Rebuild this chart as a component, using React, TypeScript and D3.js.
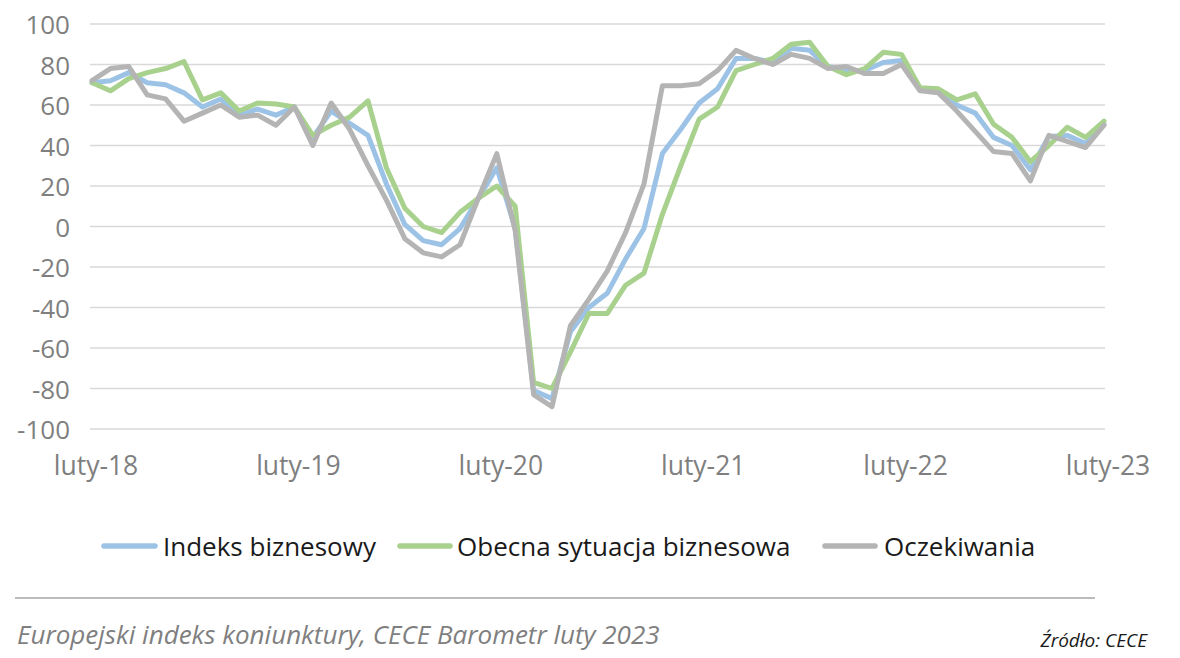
import React from "react";
import * as d3 from "d3";

const xTickLabels = ["luty-18", "luty-19", "luty-20", "luty-21", "luty-22", "luty-23"];
const yTicks = [100, 80, 60, 40, 20, 0, -20, -40, -60, -80, -100];

const indeksBiznesowy = [
  71, 72, 76, 71, 70, 66, 59, 63, 55, 58, 55, 59, 44, 57, 51, 45, 21, 1, -7, -9,
  -1, 14, 29, -1, -81, -85, -52, -40, -33, -16, -1, 36, 48, 61, 68, 83, 83, 81, 88, 87,
  79, 77, 77, 81, 82, 67.5, 66.5, 60, 56, 44, 40, 28, 44.5, 45, 41, 50.5,
];
const obecnaSytuacja = [
  71, 67, 73, 76, 78, 81.5, 62.5, 66, 57, 61, 60.5, 59, 45, 50, 54, 62, 29, 9, 0, -3,
  7, 14, 20, 10, -77, -80, -62, -43, -43, -29, -23, 6, 30, 53, 59, 77, 80, 83, 90, 91,
  79, 75, 78, 86, 85, 68.5, 68, 62.5, 65.5, 50.5, 44, 32, 40, 49, 44, 52,
];
const oczekiwania = [
  72, 78, 79, 65, 63, 52, 56, 60, 54, 55, 50, 59, 40, 61, 48, 30, 13, -6, -13, -15,
  -9, 14, 36, -2, -83, -89, -49, -36, -22, -3, 21, 69.5, 69.5, 70.5, 77, 87, 83, 80, 85, 83,
  78, 79, 75.5, 75.5, 80, 67, 66, 57, 47, 37, 36, 22.5, 45, 42, 39, 50,
];

const seriesNames = ["Indeks biznesowy", "Obecna sytuacja biznesowa", "Oczekiwania"];
const seriesColors = ["#9cc3e6", "#a9d18e", "#b4b4b4"];

const W = 1180;
const H = 658;
const FONT = "'Open Sans', sans-serif";

export default function App() {
  const series = [indeksBiznesowy, obecnaSytuacja, oczekiwania];
  const n = indeksBiznesowy.length;
  const monthsPerLabel = (n - 1) / (xTickLabels.length - 1);
  const x = d3.scalePoint<number>().domain(d3.range(n)).range([92, 1104]);
  const y = d3.scaleLinear().domain([-100, 100]).range([429, 24]);
  const line = d3
    .line<number>()
    .x((_, i) => x(i) as number)
    .y((v) => y(v));

  const legendItems = [
    { x1: 104, x2: 155, tx: 163 },
    { x1: 400, x2: 450, tx: 457 },
    { x1: 825, x2: 875, tx: 884 },
  ];

  return (
    <svg
      width={W}
      height={H}
      style={{ position: "absolute", left: 0, top: 0, background: "#fff" }}
      fontFamily={FONT}
    >
      {yTicks.map((t) => (
        <g key={t}>
          <line x1={90} x2={1105} y1={y(t)} y2={y(t)} stroke="#d9d9d9" strokeWidth={1.5} />
          <text x={70} y={y(t)} textAnchor="end" dominantBaseline="central" fontSize={26} fill="#7f7f7f">
            {t}
          </text>
        </g>
      ))}
      {xTickLabels.map((lab, k) => (
        <text
          key={lab}
          x={(x(k * monthsPerLabel) as number) + 4}
          y={465}
          textAnchor="middle"
          dominantBaseline="central"
          fontSize={26.5}
          fill="#7f7f7f"
        >
          {lab}
        </text>
      ))}
      {series.map((s, i) => (
        <path
          key={i}
          d={line(s) || ""}
          fill="none"
          stroke={seriesColors[i]}
          strokeWidth={5}
          strokeLinejoin="round"
          strokeLinecap="round"
        />
      ))}
      {seriesNames.map((name, i) => (
        <g key={name}>
          <line
            x1={legendItems[i].x1}
            x2={legendItems[i].x2}
            y1={546}
            y2={546}
            stroke={seriesColors[i]}
            strokeWidth={5.5}
            strokeLinecap="round"
          />
          <text x={legendItems[i].tx} y={546} dominantBaseline="central" fontSize={26} fill="#1a1a1a">
            {name}
          </text>
        </g>
      ))}
      <line x1={15} x2={1095} y1={598} y2={598} stroke="#a6a6a6" strokeWidth={1.5} />
      <text x={17} y={634} dominantBaseline="central" fontSize={26} fontStyle="italic" fill="#7f7f7f">
        Europejski indeks koniunktury, CECE Barometr luty 2023
      </text>
      <text x={1147} y={640} textAnchor="end" dominantBaseline="central" fontSize={19} fontStyle="italic" fill="#1a1a1a">
        Źródło: CECE
      </text>
    </svg>
  );
}
